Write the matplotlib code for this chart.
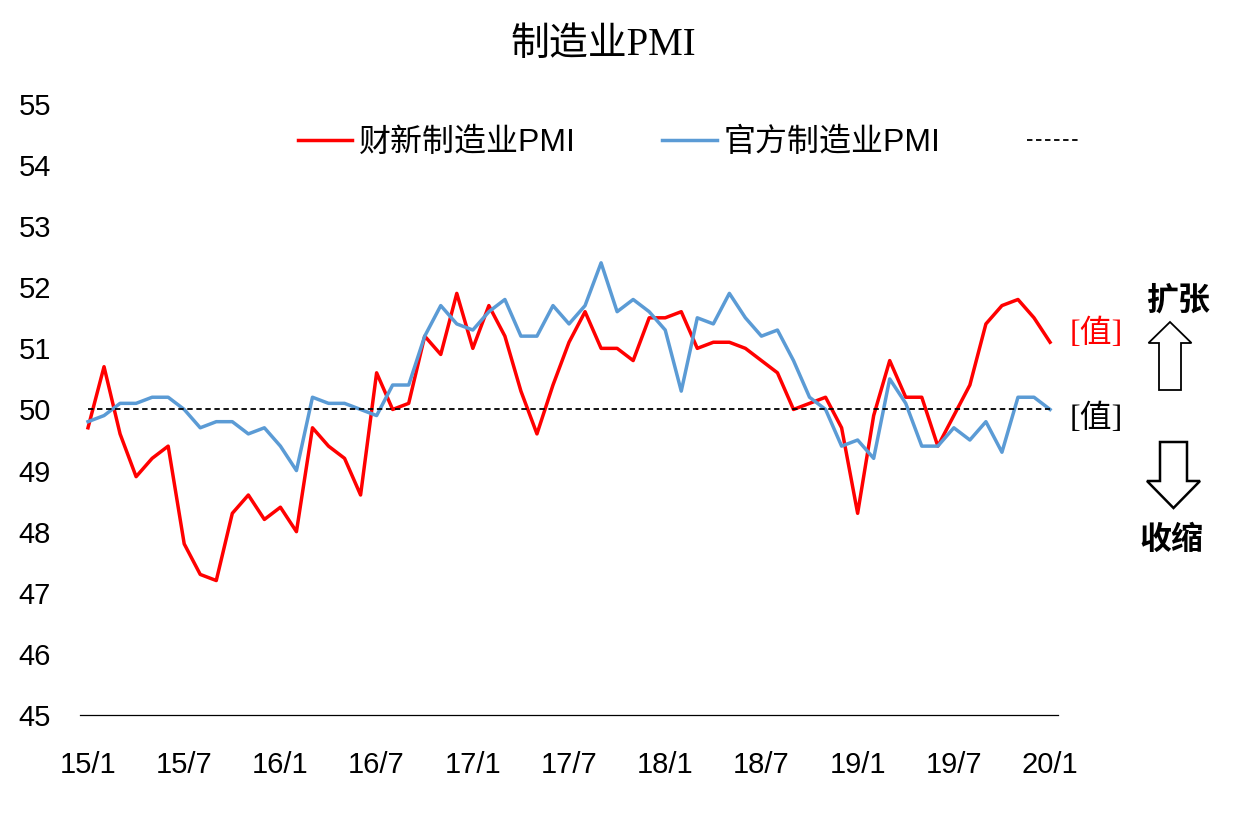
import matplotlib
matplotlib.use('Agg')
import matplotlib.pyplot as plt
import matplotlib.patches as mpatches

# monthly PMI, 2015/1 - 2020/1
months = ['%02d/%d' % (y, m) for y in range(15, 21) for m in range(1, 13)][:61]
caixin_pmi = [49.7, 50.7, 49.6, 48.9, 49.2, 49.4, 47.8, 47.3, 47.2, 48.3, 48.6, 48.2,
              48.4, 48.0, 49.7, 49.4, 49.2, 48.6, 50.6, 50.0, 50.1, 51.2, 50.9, 51.9,
              51.0, 51.7, 51.2, 50.3, 49.6, 50.4, 51.1, 51.6, 51.0, 51.0, 50.8, 51.5,
              51.5, 51.6, 51.0, 51.1, 51.1, 51.0, 50.8, 50.6, 50.0, 50.1, 50.2, 49.7,
              48.3, 49.9, 50.8, 50.2, 50.2, 49.4, 49.9, 50.4, 51.4, 51.7, 51.8, 51.5,
              51.1]
official_pmi = [49.8, 49.9, 50.1, 50.1, 50.2, 50.2, 50.0, 49.7, 49.8, 49.8, 49.6, 49.7,
                49.4, 49.0, 50.2, 50.1, 50.1, 50.0, 49.9, 50.4, 50.4, 51.2, 51.7, 51.4,
                51.3, 51.6, 51.8, 51.2, 51.2, 51.7, 51.4, 51.7, 52.4, 51.6, 51.8, 51.6,
                51.3, 50.3, 51.5, 51.4, 51.9, 51.5, 51.2, 51.3, 50.8, 50.2, 50.0, 49.4,
                49.5, 49.2, 50.5, 50.1, 49.4, 49.4, 49.7, 49.5, 49.8, 49.3, 50.2, 50.2,
                50.0]
threshold = 50
tick_labels = ['15/1', '15/7', '16/1', '16/7', '17/1', '17/7',
               '18/1', '18/7', '19/1', '19/7', '20/1']

sans = ['Liberation Sans', 'Noto Sans CJK SC']
serif = ['Liberation Serif', 'Noto Sans CJK SC']

fig = plt.figure(figsize=(12.42, 8.33), dpi=100)
ax = fig.add_axes([0.0644, 0.1417, 0.7875, 0.7335])

x = list(range(len(months)))
l1, = ax.plot(x, caixin_pmi, color='#FF0000', lw=2.5)
l2, = ax.plot(x, official_pmi, color='#5B9BD5', lw=2.5)
l3, = ax.plot(x, [threshold] * len(x), color='black', lw=1.3, ls=(0, (3, 2)))

ax.set_xlim(-0.5, len(x) - 0.5)
ax.set_ylim(45, 55)
ax.set_yticks(range(45, 56))
ax.set_xticks(x[::6])
ax.set_xticklabels(tick_labels)
for s in ['top', 'right', 'left']:
    ax.spines[s].set_visible(False)
ax.spines['bottom'].set_linewidth(0.9)
ax.tick_params(axis='y', length=0, pad=21, labelsize=21)
ax.tick_params(axis='x', length=0, pad=26, labelsize=21)
for lab in ax.get_xticklabels() + ax.get_yticklabels():
    lab.set_family(sans)

fig.text(0.486, 0.945, '制造业PMI', ha='center', va='center', fontsize=28, family=serif)

ax.legend([l1, l2, l3], ['财新制造业PMI', '官方制造业PMI', ''], ncol=3, frameon=False,
          prop={'family': sans, 'size': 23}, handlelength=1.7, handletextpad=0.22,
          columnspacing=2.7, loc='center', bbox_to_anchor=(0.558, 0.828),
          bbox_transform=fig.transFigure)

# end-point labels
ax.annotate('[值]', (x[-1], caixin_pmi[-1]), xytext=(14, 6), textcoords='offset points',
            ha='left', va='center', color='#FF0000', fontsize=23, family=serif,
            annotation_clip=False)
ax.annotate('[值]', (x[-1], official_pmi[-1]), xytext=(14, -7), textcoords='offset points',
            ha='left', va='center', color='black', fontsize=23, family=serif,
            annotation_clip=False)

# expansion / contraction markers
fig.text(11.78, 8.33 - 3.01, '扩张', transform=fig.dpi_scale_trans, ha='center',
         va='center', fontsize=23, fontweight='bold', family=serif)
fig.text(11.71, 8.33 - 5.41, '收缩', transform=fig.dpi_scale_trans, ha='center',
         va='center', fontsize=23, fontweight='bold', family=serif)
up = mpatches.FancyArrow(11.70, 8.33 - 3.90, 0, 0.68, width=0.22, head_width=0.43,
                         head_length=0.21, length_includes_head=True,
                         transform=fig.dpi_scale_trans, fc='white', ec='black', lw=1.3)
down = mpatches.FancyArrow(11.735, 8.33 - 4.42, 0, -0.66, width=0.27, head_width=0.53,
                           head_length=0.27, length_includes_head=True,
                           transform=fig.dpi_scale_trans, fc='white', ec='black', lw=1.8)
fig.add_artist(up)
fig.add_artist(down)

fig.savefig('out.png', dpi=100)
